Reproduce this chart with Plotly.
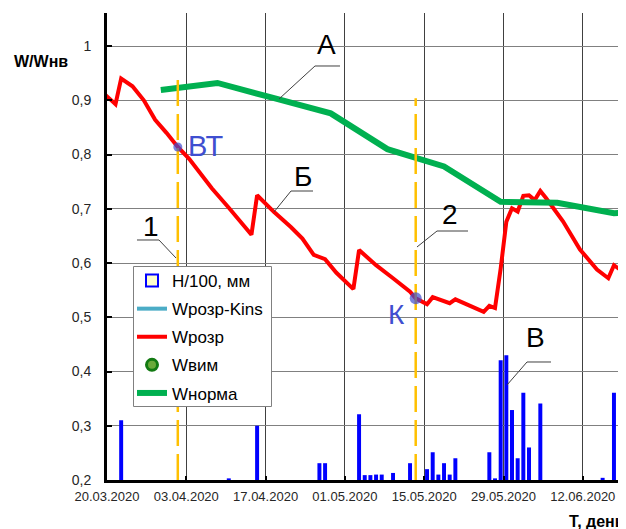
import plotly.graph_objects as go
import pandas as pd

# ---------------- data ----------------
rain_dates = ["2020-03-22", "2020-04-10", "2020-04-15", "2020-04-26", "2020-04-27",
              "2020-05-03", "2020-05-04", "2020-05-05", "2020-05-06", "2020-05-07",
              "2020-05-09", "2020-05-12", "2020-05-15", "2020-05-16", "2020-05-17",
              "2020-05-18", "2020-05-19", "2020-05-20", "2020-05-26", "2020-05-27",
              "2020-05-28", "2020-05-29", "2020-05-30", "2020-05-31", "2020-06-01",
              "2020-06-02", "2020-06-04", "2020-06-15", "2020-06-17"]
rain_values = [0.31, 0.203, 0.30, 0.231, 0.231,
               0.321, 0.209, 0.209, 0.21, 0.21,
               0.213, 0.231, 0.22, 0.251, 0.21,
               0.231, 0.21, 0.24, 0.251, 0.203,
               0.421, 0.43, 0.329, 0.24, 0.361,
               0.26, 0.341, 0.204, 0.361]

w_dates = ["2020-03-19", "2020-03-21", "2020-03-22", "2020-03-24", "2020-03-26",
           "2020-03-28", "2020-03-30", "2020-04-01", "2020-04-03", "2020-04-05",
           "2020-04-07", "2020-04-10", "2020-04-14", "2020-04-15", "2020-04-18",
           "2020-04-21", "2020-04-23", "2020-04-25", "2020-04-27", "2020-04-29",
           "2020-05-02", "2020-05-03", "2020-05-06", "2020-05-09", "2020-05-12",
           "2020-05-13", "2020-05-15", "2020-05-16", "2020-05-19", "2020-05-20",
           "2020-05-23", "2020-05-25", "2020-05-26", "2020-05-27", "2020-05-28",
           "2020-05-29", "2020-05-30", "2020-05-31", "2020-06-01", "2020-06-02",
           "2020-06-03", "2020-06-04", "2020-06-05", "2020-06-08", "2020-06-11",
           "2020-06-14", "2020-06-16", "2020-06-17", "2020-06-19"]
w_values = [0.912, 0.893, 0.940, 0.926, 0.900,
            0.864, 0.840, 0.814, 0.792, 0.765,
            0.738, 0.702, 0.652, 0.725, 0.694,
            0.666, 0.645, 0.615, 0.607, 0.582,
            0.552, 0.624, 0.596, 0.572, 0.547,
            0.535, 0.524, 0.537, 0.526, 0.533,
            0.519, 0.510, 0.521, 0.517, 0.590,
            0.676, 0.701, 0.695, 0.724, 0.725,
            0.716, 0.733, 0.720, 0.677, 0.625,
            0.588, 0.572, 0.596, 0.581]

norm_dates = ["2020-03-29", "2020-04-08", "2020-04-18", "2020-04-28", "2020-05-08",
              "2020-05-18", "2020-05-28", "2020-06-07", "2020-06-17", "2020-06-19"]
norm_values = [0.919, 0.932, 0.904, 0.876, 0.810,
               0.778, 0.713, 0.711, 0.692, 0.693]

vline_dates = ["2020-04-01", "2020-05-13"]
vline_tops = [0.943, 0.904]

point_dates = ["2020-04-01", "2020-05-13"]
point_values = [0.814, 0.535]
point_labels = ["ВТ", "К"]

series_names = ["H/100, мм", "Wрозр-Kins", "Wрозр", "Wвим", "Wнорма"]
x_tick_start = "2020-03-20"
x_range = ["2020-03-20", "2020-06-19 15:00"]
y_range = [0.2, 1.061]

# ---------------- helpers ----------------
DAY_MS = 86400000
FONT = "Arial, Liberation Sans, sans-serif"
OFF = 8                       # default page body margin
WIN_W, WIN_H = 626, 529
L, T, W, H = 107, 13, 519, 467   # plot area in window pixels
FIG_W, FIG_H = WIN_W - OFF, WIN_H - OFF


def noon(ds):
    return list(pd.to_datetime(ds) + pd.Timedelta(hours=12))


def px(x):
    return (x - L) / W


def py(y):
    return (T + H - y) / H


fig = go.Figure()

fig.add_trace(go.Bar(x=noon(rain_dates), y=rain_values, width=0.7 * DAY_MS,
                     marker=dict(color="#0000FF", line=dict(width=0)),
                     name=series_names[0], showlegend=False, legendgroup="g0"))
fig.add_trace(go.Bar(x=[None], y=[None], name=series_names[0], legendgroup="g0",
                     marker=dict(color="#FFFFCC", line=dict(color="#0000FF", width=2))))
fig.add_trace(go.Scatter(x=[None], y=[None], mode="lines", name=series_names[1],
                         legendgroup="g1", line=dict(color="#4BACC6", width=4)))
fig.add_trace(go.Scatter(x=noon(w_dates), y=w_values, mode="lines", name=series_names[2],
                         legendgroup="g2", line=dict(color="#FF0000", width=4)))
fig.add_trace(go.Scatter(x=[None], y=[None], mode="markers", name=series_names[3],
                         legendgroup="g3",
                         marker=dict(symbol="circle", size=11, color="#6AAA3A",
                                     line=dict(color="#127A12", width=3))))
fig.add_trace(go.Scatter(x=noon(norm_dates), y=norm_values, mode="lines", name=series_names[4],
                         legendgroup="g4", line=dict(color="#00B050", width=6)))

for d, top in zip(noon(vline_dates), vline_tops):
    fig.add_trace(go.Scatter(x=[d, d], y=[y_range[0], top], mode="lines", showlegend=False,
                             line=dict(color="#FFC000", width=2.5, dash="26px,8px"),
                             hoverinfo="skip"))

fig.add_trace(go.Scatter(x=noon(point_dates), y=point_values, mode="markers", showlegend=False,
                         marker=dict(color="#3F4FD0", size=[9, 12], line=dict(width=0))))

# ------------- annotations (labels with leader lines) -------------
ann = []
shapes = []


def label(text, cx, cy, size=28, color="#000000", xanchor="center"):
    ann.append(dict(xref="paper", yref="paper", x=px(cx), y=py(cy), text=text,
                    showarrow=False, xanchor=xanchor, yanchor="middle",
                    font=dict(family=FONT, size=size, color=color)))


def leader(points):
    path = "M " + " L ".join(f"{px(a):.5f},{py(b):.5f}" for a, b in points)
    shapes.append(dict(type="path", xref="paper", yref="paper", path=path,
                       line=dict(color="#404040", width=1)))


def grid_gap(x0, x1, y):
    # white patch that interrupts a grid line behind a label
    shapes.append(dict(type="rect", xref="paper", yref="paper", layer="between",
                       x0=px(x0), x1=px(x1), y0=py(y + 2), y1=py(y - 2),
                       fillcolor="white", line=dict(width=0)))


leader([(340, 66), (315, 66), (279, 99)])
leader([(313, 191), (291, 191), (274, 212)])
leader([(137, 240), (159, 240), (176, 258)])
leader([(468, 231), (437, 231), (417, 247)])
leader([(551, 362), (527, 362), (507, 385)])

grid_gap(313, 338, 46)
grid_gap(186, 219, 154)
grid_gap(378, 409, 317)
grid_gap(437, 472, 209)

# legend frame
shapes.append(dict(type="rect", xref="paper", yref="paper", layer="above",
                   x0=px(133.5), x1=px(271.5), y0=py(406.5), y1=py(266.5),
                   fillcolor="white", line=dict(color="#808080", width=1)))

label("А", 326, 45)
label("Б", 303, 176)
label("1", 151, 226)
label("2", 450, 214)
label("В", 535, 337)
label(point_labels[0], 186, 146, size=29, color="#3F4FD0", xanchor="left")
label(point_labels[1], 396, 314, size=28, color="#3F4FD0")

ann.append(dict(xref="paper", yref="paper", x=px(12), y=py(61), text="<b>W/Wнв</b>",
                showarrow=False, xanchor="left", yanchor="middle",
                font=dict(family=FONT, size=16, color="#000000")))
ann.append(dict(xref="paper", yref="paper", x=px(567), y=py(521), text="<b>Т, день</b>",
                showarrow=False, xanchor="left", yanchor="middle",
                font=dict(family=FONT, size=16, color="#000000")))

fig.update_layout(
    template="none",
    width=FIG_W, height=FIG_H,
    margin=dict(l=L - OFF, r=WIN_W - L - W, t=T - OFF, b=WIN_H - T - H, autoexpand=False),
    paper_bgcolor="white", plot_bgcolor="white",
    separators=", ",
    barmode="overlay",
    showlegend=True,
    font=dict(family=FONT, color="#262626"),
    annotations=ann, shapes=shapes,
    legend=dict(x=px(132), y=py(263), xanchor="left", yanchor="top",
                bgcolor="rgba(0,0,0,0)", borderwidth=0,
                font=dict(family=FONT, size=17, color="#000000"),
                itemwidth=30, tracegroupgap=3, traceorder="grouped"),
    xaxis=dict(type="date", range=x_range, tick0=x_tick_start, dtick=14 * DAY_MS,
               tickformat="%d.%m.%Y", tickfont=dict(size=13, color="#262626"),
               showgrid=True, gridcolor="#404040", gridwidth=1,
               showline=True, linecolor="#000000", linewidth=3,
               ticks="inside", ticklen=4, tickwidth=2, tickcolor="#000000",
               zeroline=False, ticklabelstandoff=2, automargin=False),
    yaxis=dict(range=y_range, tick0=0.2, dtick=0.1,
               tickfont=dict(size=14, color="#262626"),
               showgrid=True, gridcolor="#808080", gridwidth=1,
               showline=True, linecolor="#000000", linewidth=3,
               ticks="inside", ticklen=5, tickwidth=2, tickcolor="#000000",
               zeroline=False, ticklabelstandoff=10, automargin=False),
)

fig.write_html("out.html")
